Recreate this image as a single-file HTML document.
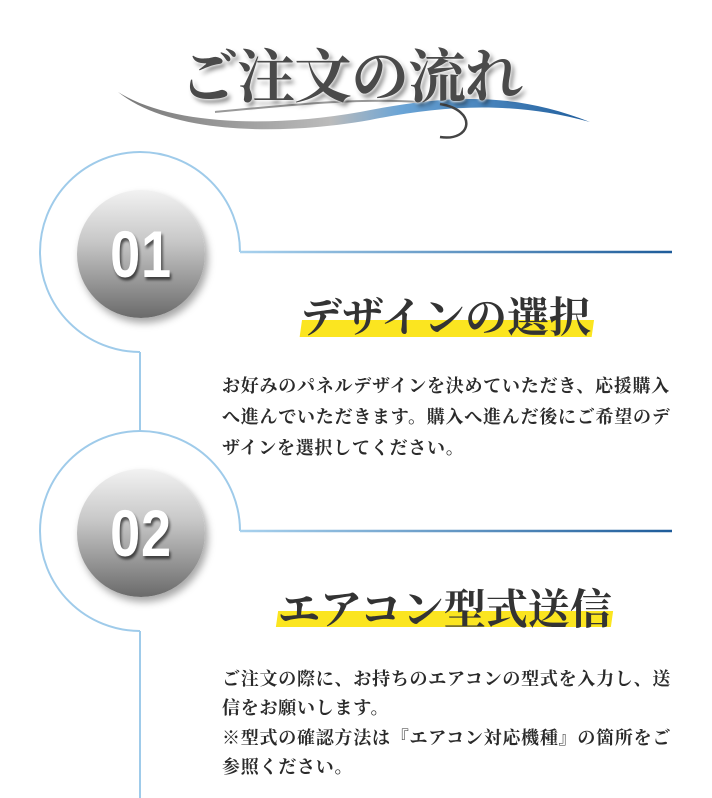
<!DOCTYPE html>
<html><head><meta charset="utf-8"><style>
body{margin:0;width:712px;height:798px;background:#fff;position:relative;overflow:hidden;font-family:"Liberation Serif","Noto Serif CJK SC","Noto Sans CJK JP",serif;}
.t{position:absolute;white-space:nowrap;color:#2a2a2a;font-weight:bold;}
.b{font-size:18px;letter-spacing:0.75px;left:222px;}
.h{font-size:42px;color:#333;}
.ball{position:absolute;width:128px;height:128px;border-radius:50%;background:linear-gradient(180deg,#f2f2f2 0%,#c8c8c8 40%,#8a8a8a 80%,#6a6a6a 100%);box-shadow:3px 5px 8px rgba(0,0,0,.35);}
.ball span{position:absolute;left:0;right:0;top:0;text-align:center;color:#fff;font-family:"Liberation Sans",sans-serif;font-weight:bold;font-size:66px;line-height:128px;text-shadow:2px 3px 3px rgba(0,0,0,.6);transform:scaleX(0.82);letter-spacing:1px}
</style></head><body>
<svg width="712" height="798" style="position:absolute;left:0;top:0">
<defs>
<linearGradient id="hl" gradientUnits="userSpaceOnUse" x1="240" y1="0" x2="672" y2="0"><stop offset="0" stop-color="#a9d2ee"/><stop offset="1" stop-color="#1e5c9a"/></linearGradient>
<linearGradient id="sw" gradientUnits="userSpaceOnUse" x1="118" y1="0" x2="590" y2="0"><stop offset="0" stop-color="#777"/><stop offset=".45" stop-color="#bbb"/><stop offset=".6" stop-color="#6aa4d6"/><stop offset="1" stop-color="#1f5d9c"/></linearGradient>
</defs>
<path d="M140 352 A100 100 0 1 1 240 252" fill="none" stroke="#9fcbea" stroke-width="2"/>
<line x1="240" y1="252" x2="672" y2="252" stroke="url(#hl)" stroke-width="2.5"/>
<line x1="140" y1="352" x2="140" y2="431" stroke="#9fcbea" stroke-width="2"/>
<path d="M140 631 A100 100 0 1 1 240 531" fill="none" stroke="#9fcbea" stroke-width="2"/>
<line x1="240" y1="531" x2="672" y2="531" stroke="url(#hl)" stroke-width="2.5"/>
<line x1="140" y1="631" x2="140" y2="798" stroke="#9fcbea" stroke-width="2"/>
<path d="M118 92 C170 125 270 128 360 112 C440 96 510 90 590 122 C510 100 440 106 370 120 C280 136 170 134 118 92Z" fill="url(#sw)"/>
<path d="M215 112 C300 104 360 98 420 102" stroke="#999" stroke-width="2" fill="none"/>
<path d="M440 104 C478 110 472 142 440 137" stroke="#444" stroke-width="2.5" fill="none"/>
<rect x="302" y="320" width="292" height="17" fill="#fbe520" transform="skewX(-8) translate(45 0)"/>
<rect x="278" y="611" width="335" height="16" fill="#fbe520" transform="skewX(-8) translate(86 0)"/>
</svg>
<div class="t" style="left:180px;top:30px;font-size:58px;color:#4a4a4a;letter-spacing:-1px;text-shadow:0 0 3px #fff,0 0 3px #fff,3px 4px 5px rgba(0,0,0,.45);">ご注文の流れ</div>
<div class="ball" style="left:77px;top:190px"><span>01</span></div>
<div class="ball" style="left:77px;top:469px"><span>02</span></div>
<div class="t h" style="left:300px;top:285px">デザインの選択</div>
<div class="t b" style="top:372px">お好みのパネルデザインを決めていただき、応援購入</div>
<div class="t b" style="top:403px">へ進んでいただきます。購入へ進んだ後にご希望のデ</div>
<div class="t b" style="top:434px">ザインを選択してください。</div>
<div class="t h" style="left:278px;top:577px">エアコン型式送信</div>
<div class="t b" style="top:665px">ご注文の際に、お持ちのエアコンの型式を入力し、送</div>
<div class="t b" style="top:694px">信をお願いします。</div>
<div class="t b" style="top:724px">※型式の確認方法は『エアコン対応機種』の箇所をご</div>
<div class="t b" style="top:753px">参照ください。</div>
</body></html>
